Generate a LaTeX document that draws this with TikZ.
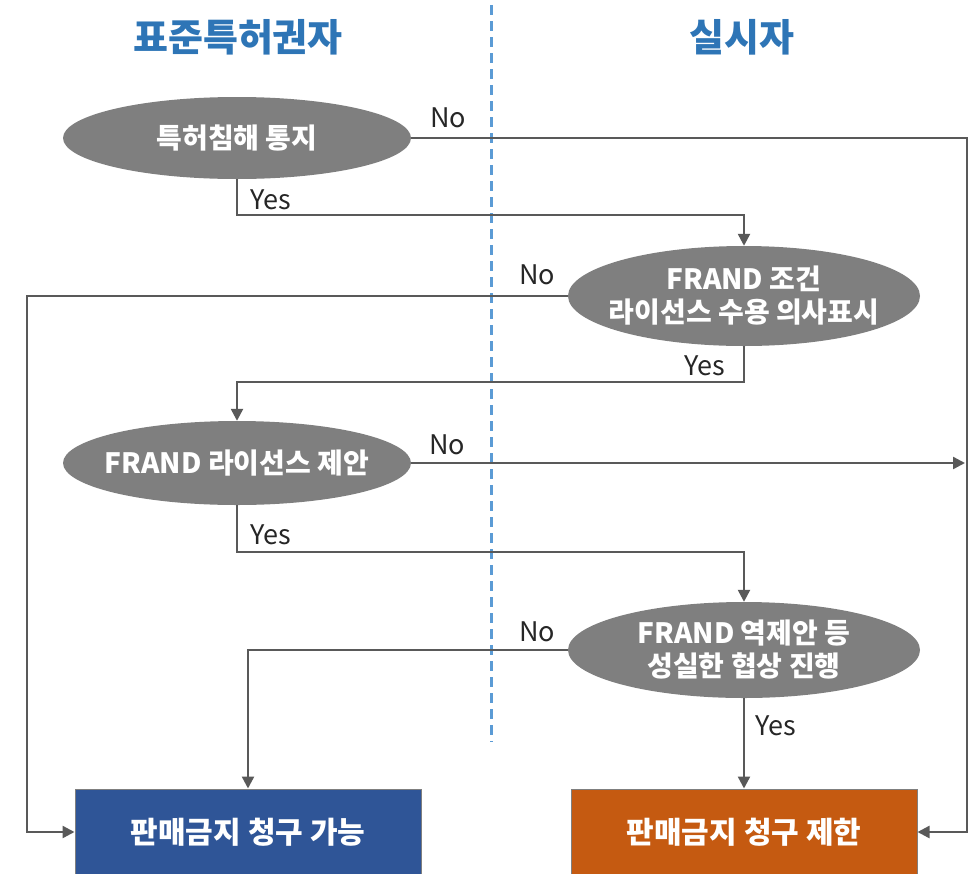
\documentclass[tikz,border=0pt]{standalone}
\usepackage{fontspec}
\setmainfont{Noto Sans CJK KR}
\usetikzlibrary{arrows.meta,positioning,shapes.geometric}
\definecolor{lineg}{RGB}{89,89,89}
\definecolor{nodeg}{RGB}{127,127,127}
\definecolor{titleb}{RGB}{46,117,182}
\definecolor{dashb}{RGB}{91,155,213}
\definecolor{okblue}{RGB}{47,85,151}
\definecolor{noorange}{RGB}{197,90,17}
\tikzset{
  askoval/.style={ellipse, fill=nodeg, text=white, font=\fontsize{28}{33}\selectfont\bfseries, align=center, inner xsep=-16pt, inner ysep=0pt},
  endbox/.style={rectangle, draw=nodeg, line width=1pt, text=white, font=\fontsize{30}{36}\selectfont\bfseries, minimum width=346pt, minimum height=86pt},
  flow/.style={-{Triangle[length=12pt,width=12pt]}, lineg, line width=2.4pt},
  lbl/.style={font=\fontsize{27}{32}\selectfont, text=black!85}
}
\begin{document}
\begin{tikzpicture}[x=1pt,y=-1pt]
\useasboundingbox (0,0) rectangle (972,873);
% Columns
\node[font=\fontsize{38}{44}\selectfont\bfseries, text=titleb] (lefthead) at (238,37) {표준특허권자};
\node[font=\fontsize{38}{44}\selectfont\bfseries, text=titleb] (righthead) at (742,37) {실시자};
\draw[dashb, line width=3pt, dash pattern=on 10pt off 6pt] (491,5) -- (491,742);
% Rails
\coordinate (rightrail) at (967,0);
\coordinate (leftrail) at (27,0);
% Steps
\node[askoval, minimum width=348pt, minimum height=82pt] (notice) at (237,138) {특허침해 통지};
\node[askoval, minimum width=352pt, minimum height=100pt] (willing) at (744,296) {FRAND 조건\\라이선스 수용 의사표시};
\node[askoval, minimum width=348pt, minimum height=84pt] (offer) at (237,463) {FRAND 라이선스 제안};
\node[askoval, minimum width=352pt, minimum height=96pt] (counter) at (744,650) {FRAND 역제안 등\\성실한 협상 진행};
% Outcomes
\node[endbox, fill=okblue] (allowed) at (248,832) {판매금지 청구 가능};
\node[endbox, fill=noorange] (limited) at (744,832) {판매금지 청구 제한};
% Connectors
\draw[flow] (notice.east) -- (notice.east -| rightrail) |- (limited.east);
\draw[flow] (notice.south) -- ++(0,36) -| (willing.north);
\draw[flow] (willing.west) -- (willing.west -| leftrail) |- (allowed.west);
\draw[flow] (willing.south) -- ++(0,36) -| (offer.north);
\draw[flow, shorten >=2pt] (offer.east) -- (offer.east -| rightrail);
\draw[flow] (offer.south) -- ++(0,47) -| (counter.north);
\draw[flow] (counter.west) -| (allowed.north);
\draw[flow] (counter.south) -- (limited.north);
% Labels
\node[lbl] (no1) at (448,118) {No};
\node[lbl] (yes1) at (271,200) {Yes};
\node[lbl] (no2) at (537,275) {No};
\node[lbl] (yes2) at (705,366) {Yes};
\node[lbl] (no3) at (447,445) {No};
\node[lbl] (yes3) at (271,535) {Yes};
\node[lbl] (no4) at (537,632) {No};
\node[lbl] (yes4) at (776,726) {Yes};
\end{tikzpicture}
\end{document}
